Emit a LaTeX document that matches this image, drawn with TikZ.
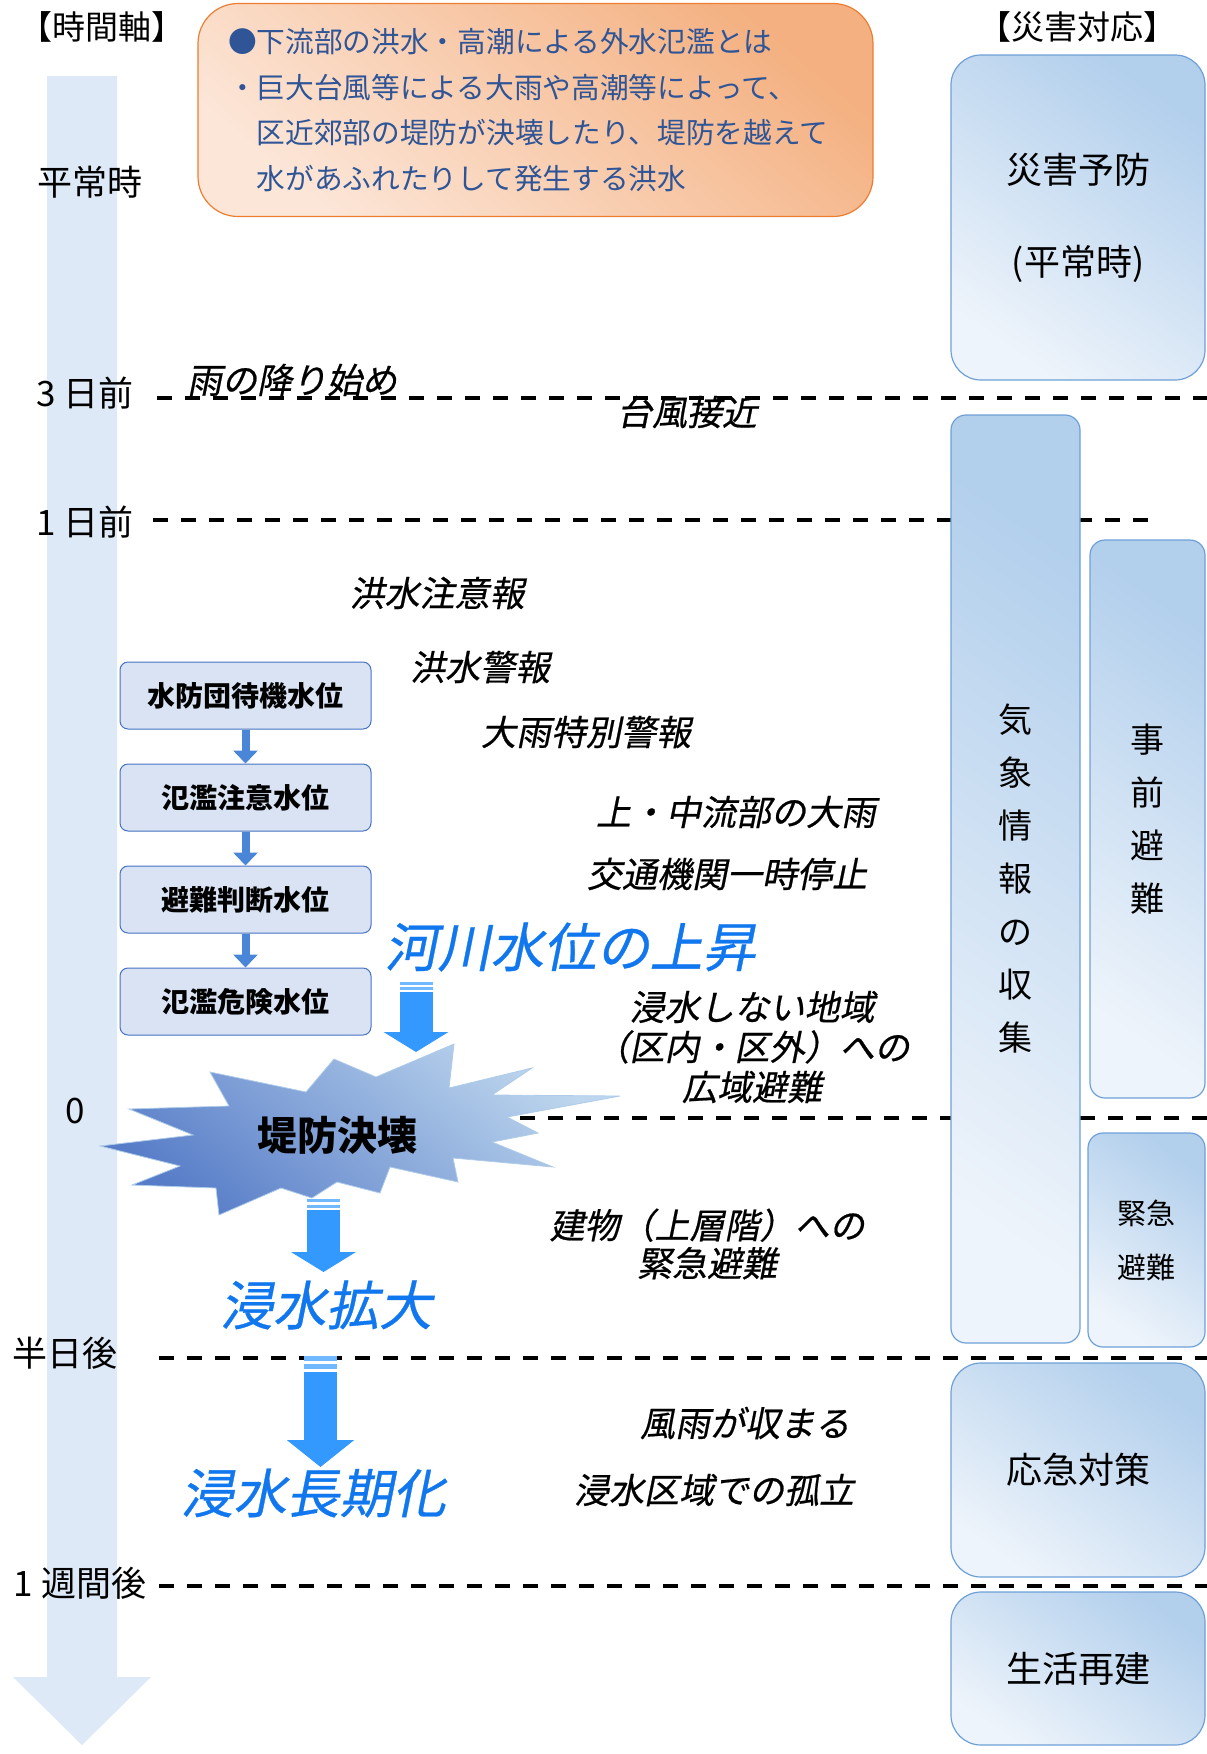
\documentclass[tikz,border=0pt]{standalone}
\usepackage{fontspec}
\setmainfont{Noto Sans CJK JP}
\newfontfamily\inclinada[FakeSlant=0.2, FakeBold=0.6]{Noto Sans CJK JP}
\usepackage{tikz}
\usetikzlibrary{positioning, arrows.meta}
\definecolor{ejeazul}{RGB}{221,233,246}
\definecolor{naranja}{RGB}{244,176,128}
\definecolor{durazno}{RGB}{252,230,216}
\definecolor{bordenaranja}{RGB}{237,125,49}
\definecolor{textoazul}{RGB}{47,85,151}
\definecolor{cajaazul}{RGB}{178,207,236}
\definecolor{cajaclara}{RGB}{238,244,251}
\definecolor{bordeazul}{RGB}{110,160,215}
\definecolor{nivelfondo}{RGB}{218,227,243}
\definecolor{nivelborde}{RGB}{68,114,196}
\definecolor{azulflecha}{RGB}{74,134,216}
\definecolor{azulflechon}{RGB}{51,153,255}
\definecolor{azulvivo}{RGB}{17,119,238}
\definecolor{estallidoclaro}{RGB}{190,215,238}
\definecolor{estallidooscuro}{RGB}{88,125,200}
\tikzset{
	caja/.style={draw=bordeazul, line width=1.2pt, top color=cajaazul, bottom color=cajaclara, shading angle=-35, align=center}, % Cajas de la columna derecha
	nivel/.style={draw=nivelborde, line width=1pt, fill=nivelfondo, rounded corners=8pt, minimum width=251pt, minimum height=67pt, font=\bfseries\fontsize{28}{34}\selectfont}, % Cajas de niveles de agua
	linea/.style={line width=4pt, dash pattern=on 15pt off 13pt}, % Lineas de tiempo punteadas
	flechita/.style={draw=azulflecha, line width=8pt, -{Triangle[width=24pt,length=13pt]}}, % Flechas entre niveles
	flechon/.style={draw=azulflechon, line width=33pt, -{Triangle[width=64pt,length=20pt]}}, % Flechas grandes
	raya/.style={draw=azulflechon!70, line width=3pt} % Rayas sobre las flechas grandes
}

\begin{document}
\begin{tikzpicture}[x=1pt, y=-1pt,
								node distance=34pt,
								tiempo/.style={font=\fontsize{35}{40}\selectfont},
								evento/.style={align=center, font=\inclinada\fontsize{35}{40}\selectfont},
								subida/.style={text=azulvivo, font=\inclinada\fontsize{53}{58}\selectfont}]
				\useasboundingbox (0,0) rectangle (1207,1754);
				\fill[ejeazul] (47,76) -- (117,76) -- (117,1677) -- (151,1677) -- (82,1745) -- (13,1677) -- (47,1677) -- cycle;
				\draw[linea] (157,398) -- (1207,398);
				\draw[linea] (153,520) -- (1153,520);
				\draw[linea] (520,1118) -- (1207,1118);
				\draw[linea] (159,1358) -- (1207,1358);
				\draw[linea] (159,1586) -- (1207,1586);
				\node[font=\fontsize{33}{38}\selectfont] (eje) at (102,27) {【時間軸】};
				\node[font=\fontsize{33}{38}\selectfont] (resp) at (1077,27) {【災害対応】};
				\node[draw=bordenaranja, line width=1.2pt, rounded corners=40pt, top color=naranja, bottom color=durazno, shading angle=-40,
					minimum width=675pt, minimum height=213pt, text width=615pt, inner xsep=30pt, align=left,
					text=textoazul, font=\fontsize{28.7}{45.7}\selectfont] (nota) at (535.5,110) {●下流部の洪水・高潮による外水氾濫とは\\・巨大台風等による大雨や高潮等によって、\\　区近郊部の堤防が決壊したり、堤防を越えて\\　水があふれたりして発生する洪水};
				\node[tiempo] (t1) at (90,182) {平常時};
				\node[tiempo] (t2) at (85,393) {3 日前};
				\node[tiempo] (t3) at (85,522) {1 日前};
				\node[tiempo] (t4) at (75,1111) {0};
				\node[tiempo] (t5) at (65,1353) {半日後};
				\node[tiempo] (t6) at (80,1583) {1 週間後};
				\node[caja, rounded corners=30pt, minimum width=254pt, minimum height=325pt, font=\fontsize{36}{92}\selectfont] (yobo) at (1078,217.5) {災害予防\\(平常時)};
				\node[caja, rounded corners=15pt, minimum width=129pt, minimum height=928pt, font=\fontsize{34}{53}\selectfont] (kisho) at (1015.5,879) {気\\象\\情\\報\\の\\収\\集};
				\node[caja, rounded corners=15pt, minimum width=115pt, minimum height=558pt, font=\fontsize{34}{53}\selectfont] (jizen) at (1147.5,819) {事\\前\\避\\難};
				\node[caja, rounded corners=15pt, minimum width=117pt, minimum height=214pt, font=\fontsize{29}{54}\selectfont] (kinkyu) at (1146.5,1240) {緊急\\避難};
				\node[caja, rounded corners=30pt, minimum width=254pt, minimum height=214pt, font=\fontsize{36}{44}\selectfont] (okyu) at (1078,1470) {応急対策};
				\node[caja, rounded corners=30pt, minimum width=254pt, minimum height=153pt, font=\fontsize{36}{44}\selectfont] (saiken) at (1078,1668.5) {生活再建};
				\node[evento] (e1) at (292,380) {雨の降り始め};
				\node[evento] (e2) at (687,412) {台風接近};
				\node[evento] (e3) at (437,593) {洪水注意報};
				\node[evento] (e4) at (480,667) {洪水警報};
				\node[evento] (e5) at (586,732) {大雨特別警報};
				\node[evento] (e6) at (736,812) {上・中流部の大雨};
				\node[evento] (e7) at (727,874) {交通機関一時停止};
				\node[evento] (e8) at (752,1047) {浸水しない地域\\（区内・区外）への\\広域避難};
				\node[evento, font=\inclinada\fontsize{35}{38}\selectfont] (e9) at (707,1244) {建物（上層階）への\\緊急避難};
				\node[evento] (e10) at (745,1423) {風雨が収まる};
				\node[evento] (e11) at (714,1490) {浸水区域での孤立};
				\node[nivel] (w1) at (245.5,695.5) {水防団待機水位};
				\node[nivel, below=of w1] (w2) {氾濫注意水位};
				\node[nivel, below=of w2] (w3) {避難判断水位};
				\node[nivel, below=of w3] (w4) {氾濫危険水位};
				\draw[flechita] (w1) -- (w2);
				\draw[flechita] (w2) -- (w3);
				\draw[flechita] (w3) -- (w4);
				\node[subida] (k) at (570,947) {河川水位の上昇};
				\draw[draw=estallidoclaro!80!bordeazul, line width=0.8pt, top color=estallidoclaro, bottom color=estallidooscuro, shading angle=-40]
					(100,1146) -- (193,1135) -- (129,1109) -- (229,1106) -- (210,1072) -- (306,1092) -- (334,1059) -- (376,1077)
					-- (454,1044) -- (449,1088) -- (532,1068) -- (492,1095) -- (620,1096) -- (507,1117) -- (538,1133) -- (492,1142)
					-- (553,1167) -- (453,1158) -- (458,1182) -- (390,1167) -- (380,1193) -- (337,1182) -- (312,1198) -- (281,1188)
					-- (219,1215) -- (216,1188) -- (132,1185) -- (180,1166) -- cycle;
				\node[font=\bfseries\fontsize{40}{44}\selectfont] (E) at (337,1135) {堤防決壊};
				\node[subida] (s1) at (326,1305) {浸水拡大};
				\node[subida] (s2) at (313,1493) {浸水長期化};
				\coordinate (a1) at (416,992);
				\coordinate (b1) at (416,1052);
				\coordinate (a2) at (323.5,1210);
				\coordinate (b2) at (323.5,1272);
				\coordinate (a3) at (320.5,1372);
				\coordinate (b3) at (320.5,1467);
				\draw[raya] (399.5,983.5) -- (432.5,983.5);
				\draw[raya] (399.5,988.5) -- (432.5,988.5);
				\draw[flechon] (a1) -- (b1);
				\draw[raya] (307,1200) -- (340,1200);
				\draw[raya] (307,1206) -- (340,1206);
				\draw[flechon] (a2) -- (b2);
				\draw[raya, line width=5pt] (304,1358) -- (337,1358);
				\draw[raya, line width=5pt] (304,1366) -- (337,1366);
				\draw[flechon, -{Triangle[width=66pt,length=27pt]}] (a3) -- (b3);
			\end{tikzpicture}
\end{document}
